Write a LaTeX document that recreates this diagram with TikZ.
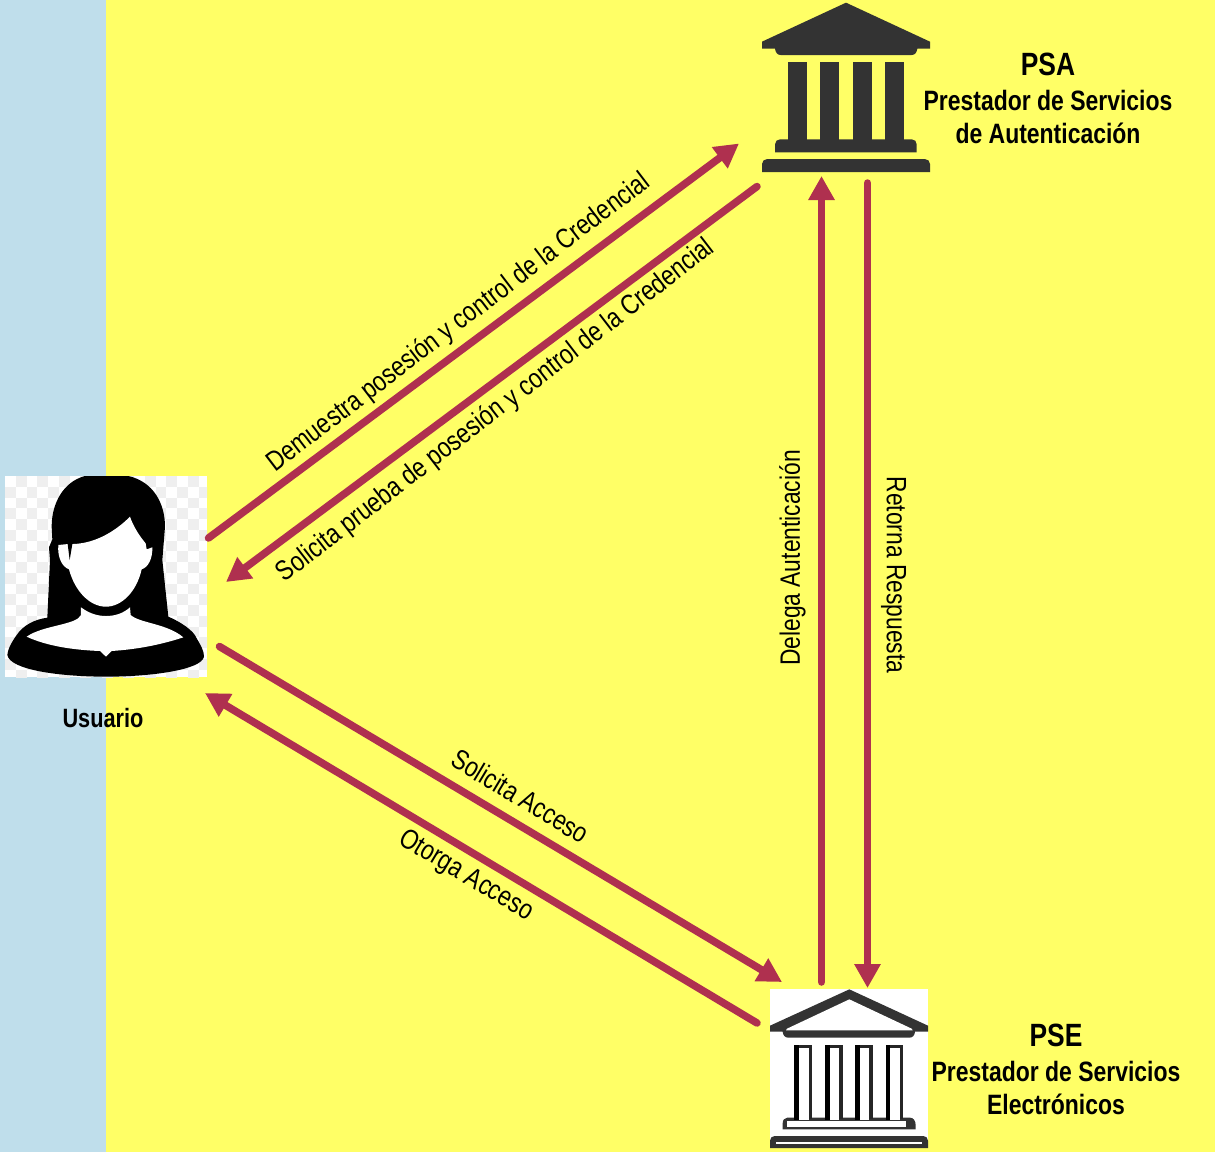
\documentclass[tikz,border=0pt]{standalone}
\usepackage{fontspec}
\setmainfont{Liberation Sans}
\newfontfamily\narrowfont[FakeStretch=0.815]{Liberation Sans}
\newfontfamily\narrowbold[FakeStretch=0.82]{Liberation Sans Bold}
\usetikzlibrary{arrows.meta}
\definecolor{sidebg}{HTML}{BFDEEB}
\definecolor{mainbg}{HTML}{FFFF66}
\definecolor{arrowc}{HTML}{AF304F}
\definecolor{icond}{HTML}{333333}
\definecolor{checkc}{HTML}{EFEFEF}
\tikzset{
  flow/.style={draw=arrowc,line width=7.5pt,line cap=round,-{Triangle[length=24pt,width=25pt]}},
  lbl/.style={font=\narrowfont\fontsize{28}{31}\selectfont,inner sep=0pt,text=black},
  ttl/.style={font=\narrowbold\fontsize{32.2}{36}\selectfont,inner sep=0pt,text=black},
  sub/.style={font=\narrowbold\fontsize{28}{31}\selectfont,inner sep=0pt,text=black},
}
\begin{document}
\begin{tikzpicture}[x=1pt,y=-1pt]
\useasboundingbox (0,0) rectangle (1215,1152);
\fill[mainbg] (0,0) rectangle (1215,1152);
\fill[sidebg] (0,0) rectangle (106,1152);

% person picture
\begin{scope}
\clip (5,476) rectangle (207,677);
\fill[white] (5,476) rectangle (207,677);
\foreach \i in {0,...,18}{\foreach \j in {0,...,18}{
  \pgfmathtruncatemacro{\k}{mod(\i+\j,2)}
  \ifnum\k=1
    \fill[checkc] ({5+\i*10.75},{476+\j*10.75}) rectangle ++(10.75,10.75);
  \fi
}}
\end{scope}
\begin{scope}[shift={(0,460)},x=0.33333pt,y=-0.33333pt]
\fill[black] (255,48) -- (385,48) .. controls (460,65) and (495,130) .. (495,200)
  -- (487,300) -- (505,470) .. controls (540,485) and (580,510) .. (590,535)
  .. controls (605,560) and (612,575) .. (612,590)
  .. controls (605,630) and (450,650) .. (320,650)
  .. controls (180,650) and (30,630) .. (22,585)
  .. controls (25,560) and (40,540) .. (50,525)
  .. controls (70,495) and (105,478) .. (142,473)
  -- (150,300) -- (147,262) -- (157,238) -- (155,200)
  .. controls (155,130) and (190,65) .. (255,48) -- cycle;
\fill[white] (175,255) -- (205,252) .. controls (280,255) and (345,215) .. (390,170)
  .. controls (400,200) and (420,230) .. (437,250) -- (440,268) -- (457,262)
  .. controls (458,295) and (445,322) .. (425,328)
  .. controls (410,395) and (365,440) .. (318,440)
  .. controls (270,440) and (225,395) .. (207,328)
  .. controls (185,320) and (172,290) .. (175,255) -- cycle;
\fill[black] (203,252) -- (209,300) -- (217,252) -- cycle;
\fill[white] (243,442) .. controls (270,462) and (295,468) .. (318,468)
  .. controls (345,468) and (370,460) .. (390,442)
  -- (392,465) .. controls (420,490) and (500,490) .. (550,532)
  .. controls (480,555) and (410,568) .. (335,573)
  -- (318,590) -- (300,573)
  .. controls (220,570) and (140,558) .. (80,530)
  .. controls (130,495) and (230,495) .. (243,465) -- cycle;
\end{scope}

% PSA icon
\begin{scope}[shift={(740,0)},x=0.33333pt,y=-0.33333pt]
\fill[icond] (318,8) -- (570,125) -- (570,146) -- (532,146)
  .. controls (530,158) and (525,165) .. (515,165) -- (122,165)
  .. controls (112,165) and (107,158) .. (105,146) -- (66,146) -- (66,125) -- cycle;
\foreach \a in {144,240,338,434}{\fill[icond] (\a,185) rectangle ++(58,240);}
\fill[icond] (105,457) -- (105,433) .. controls (105,424) and (112,418) .. (120,418)
  -- (515,418) .. controls (524,418) and (530,424) .. (530,433) -- (530,457) -- cycle;
\fill[icond] (66,516) -- (66,492) .. controls (66,483) and (73,477) .. (82,477)
  -- (554,477) .. controls (563,477) and (570,483) .. (570,492) -- (570,516) -- cycle;
\end{scope}

% PSE icon
\begin{scope}[shift={(740,960)},x=0.33333pt,y=-0.33333pt]
\fill[white] (90,88) rectangle (564,564);
\fill[icond] (328,88) -- (564,197) -- (564,215) -- (525,215)
  .. controls (524,226) and (518,233) .. (508,233) -- (145,233)
  .. controls (135,233) and (129,226) .. (128,215) -- (90,215) -- (90,197) -- cycle;
\fill[white] (328,118) -- (515,206) -- (518,211) -- (138,211) -- (141,206) -- cycle;
\fill[icond] (128,508) -- (128,490) .. controls (128,480) and (134,473) .. (142,473)
  -- (510,473) .. controls (520,473) and (527,482) .. (527,495) -- (527,508) -- cycle;
\fill[white] (142,482) rectangle (497,502);
\foreach \a in {170,262,352,444}{
  \draw[black!85,line width=3.5pt] (\a+41,476) -- (\a+41,259) -- (\a,259);
  \draw[black,line width=4.5pt] (\a,480) -- (\a,254);
  \fill[white] (\a+7,269) rectangle (\a+36,480);
}
\fill[icond] (90,564) -- (90,542) .. controls (90,534) and (96,528) .. (104,528)
  -- (550,528) .. controls (558,528) and (564,534) .. (564,542) -- (564,564) -- cycle;
\fill[white] (108,545) rectangle (545,553);
\end{scope}

% connector ends
\coordinate (uOut) at (208.5,538);
\coordinate (psaIn) at (739,143.5);
\coordinate (psaOut) at (757,186.5);
\coordinate (uIn) at (226,582);
\coordinate (uOut2) at (219.5,646.5);
\coordinate (pseIn) at (782,982);
\coordinate (pseOut) at (757,1023);
\coordinate (uIn2) at (205,693);
\coordinate (pseUp) at (821.5,982);
\coordinate (psaUp) at (821.5,176);
\coordinate (psaDown) at (867.5,183);
\coordinate (pseDown) at (867.5,988);

\draw[flow] (uOut) -- (psaIn);
\draw[flow] (psaOut) -- (uIn);
\draw[flow] (uOut2) -- (pseIn);
\draw[flow] (pseOut) -- (uIn2);
\draw[flow] (pseUp) -- (psaUp);
\draw[flow] (psaDown) -- (pseDown);

% labels
\node[lbl,rotate=37.4] (l1) at (459,323) {Demuestra posesión y control de la Credencial};
\node[lbl,rotate=37.6] (l2) at (496,411) {Solicita prueba de posesión y control de la Credencial};
\node[lbl,rotate=-31] (l3) at (520.5,796) {Solicita Acceso};
\node[lbl,rotate=-31] (l4) at (466,876) {Otorga Acceso};
\node[lbl,rotate=90] (l5) at (792.5,558) {Delega Autenticación};
\node[lbl,rotate=-90] (l6) at (893.5,575) {Retorna Respuesta};

\node[ttl] (psaT) at (1048,64) {PSA};
\node[sub] (psaA) at (1048,100) {Prestador de Servicios};
\node[sub] (psaB) at (1048,133) {de Autenticación};
\node[ttl] (pseT) at (1056,1035) {PSE};
\node[sub] (pseA) at (1056,1071) {Prestador de Servicios};
\node[sub] (pseB) at (1056,1104) {Electrónicos};
\node[font=\narrowbold\fontsize{26.5}{29}\selectfont,inner sep=0pt] (usr) at (103,718) {Usuario};
\end{tikzpicture}
\end{document}
